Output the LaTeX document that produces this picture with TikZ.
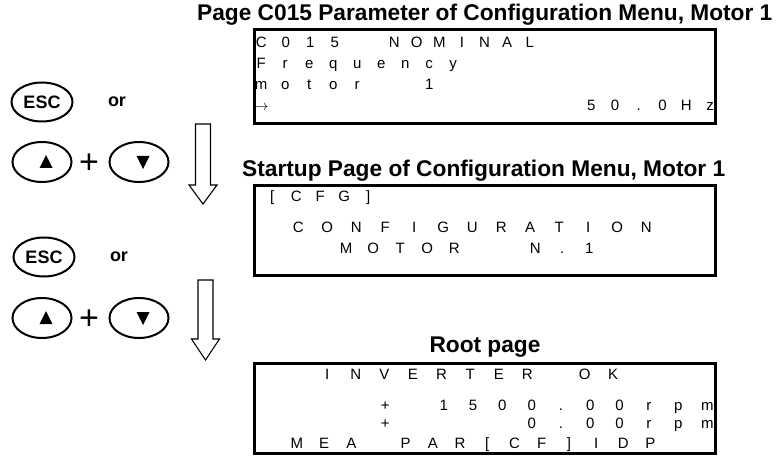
\documentclass[tikz,border=0pt]{standalone}
\usepackage{fontspec}
\setmainfont{Liberation Sans}
\usetikzlibrary{shapes.geometric}

% one LCD row: every character centred in a cell of fixed pitch
\newlength\lcdpitch
\def\lcdloop#1{\ifx\relax#1\else\makebox[\lcdpitch][c]{#1}\expandafter\lcdloop\fi}
\newcommand\lcdrow[2]{\setlength\lcdpitch{#1}\lcdloop#2\relax}

\tikzset{
  title/.style={font=\bfseries\fontsize{22.7}{26}\selectfont, inner sep=0pt},
  lcdbox/.style={draw, line width=3pt, inner sep=0pt},
  lcd/.style={font=\fontsize{15}{16}\selectfont, inner sep=0pt, anchor=base west},
  key/.style={ellipse, draw, line width=2pt, inner sep=0pt},
  esc/.style={key, minimum width=61pt, minimum height=39pt,
              font=\bfseries\fontsize{18}{20}\selectfont},
  arrowkey/.style={key, minimum width=59pt, minimum height=40pt},
  word/.style={font=\bfseries\fontsize{18}{20}\selectfont, inner sep=0pt},
  plus/.style={font=\fontsize{34}{34}\selectfont, inner sep=0pt},
  hollow/.style={draw, line width=1.1pt, fill=white, line join=miter},
}

\begin{document}
\begin{tikzpicture}[x=1pt, y=-1pt]
\useasboundingbox (0,0) rectangle (776,457);

% ---- titles
\node[title, anchor=base west] (t1) at (197,21) {Page C015 Parameter of Configuration Menu, Motor 1};
\node[title, anchor=base west] (t2) at (242,177) {Startup Page of Configuration Menu, Motor 1};
\node[title, anchor=base] (t3) at (485,352) {Root page};

% ---- display frames
\node[lcdbox, minimum width=461pt, minimum height=94pt] (d1) at (485,76.5) {};
\node[lcdbox, minimum width=461pt, minimum height=90pt] (d2) at (485,230.5) {};
\node[lcdbox, minimum width=461pt, minimum height=90pt] (d3) at (485,408.5) {};

% ---- display 1
\node[lcd] (d1r1) at (248.75,48) {\lcdrow{24.5pt}{C015}};
\node[lcd] (d1r1b) at (382.7,48) {\lcdrow{22.6pt}{NOMINAL}};
\node[lcd] (d1r2) at (249,69) {\lcdrow{24pt}{Frequency}};
\node[lcd] (d1r3) at (249,90) {\lcdrow{24pt}{motor~~1}};
\node[lcd] (d1r4) at (249,111) {\lcdrow{24pt}{{$\rightarrow$}}};
\node[lcd] (d1r4b) at (579.1,111) {\lcdrow{23.8pt}{50.0Hz}};

% ---- display 2
\node[lcd] (d2r1) at (260,201) {\lcdrow{24pt}{[CFG]}};
\node[lcd] (d2r2) at (283.5,232) {\lcdrow{29pt}{CONFIGURATION}};
\node[lcd] (d2r3) at (332.5,253) {\lcdrow{27pt}{MOTOR~~N.1}};

% ---- display 3
\node[lcd] (d3r1) at (312.7,379) {\lcdrow{28.6pt}{INVERTER~OK}};
\node[lcd] (d3r2) at (370.35,410) {\lcdrow{29.3pt}{+~1500.00rpm}};
\node[lcd] (d3r3) at (370.35,428.5) {\lcdrow{29.3pt}{+~~~~0.00rpm}};
\node[lcd] (d3r4) at (283.1,448.5) {\lcdrow{27.2pt}{MEA~PAR[CF]IDP}};

% ---- keys, first step
\node[esc] (esc1) at (42,102) {ESC};
\node[word] (or1) at (117,102) {or};
\node[arrowkey] (up1) at (42,162) {};
\node[plus] (plus1) at (89,164) {+};
\node[arrowkey] (down1) at (139,162) {};
\fill ([xshift=4pt]up1.center) ++(-6.5,6) -- ++(13,0) -- ++(-6.5,-13) -- cycle;
\fill ([xshift=4pt]down1.center) ++(-6.5,-6) -- ++(13,0) -- ++(-6.5,13) -- cycle;

% ---- keys, second step
\node[esc] (esc2) at (44,257) {ESC};
\node[word] (or2) at (119,257) {or};
\node[arrowkey] (up2) at (42,318) {};
\node[plus] (plus2) at (89,320) {+};
\node[arrowkey] (down2) at (139,318) {};
\fill ([xshift=4pt]up2.center) ++(-6.5,6) -- ++(13,0) -- ++(-6.5,-13) -- cycle;
\fill ([xshift=4pt]down2.center) ++(-6.5,-6) -- ++(13,0) -- ++(-6.5,13) -- cycle;

% ---- hollow down arrows
\coordinate (a1) at (203,124);
\coordinate (a2) at (205.5,280);
\draw[hollow, shift={(a1)}] (-7.5,0) -- (-7.5,61) -- (-14,61) -- (0,80) -- (14,61) -- (7.5,61) -- (7.5,0) -- cycle;
\draw[hollow, shift={(a2)}] (-7.5,0) -- (-7.5,59) -- (-14,59) -- (0,80) -- (14,59) -- (7.5,59) -- (7.5,0) -- cycle;
\end{tikzpicture}
\end{document}
